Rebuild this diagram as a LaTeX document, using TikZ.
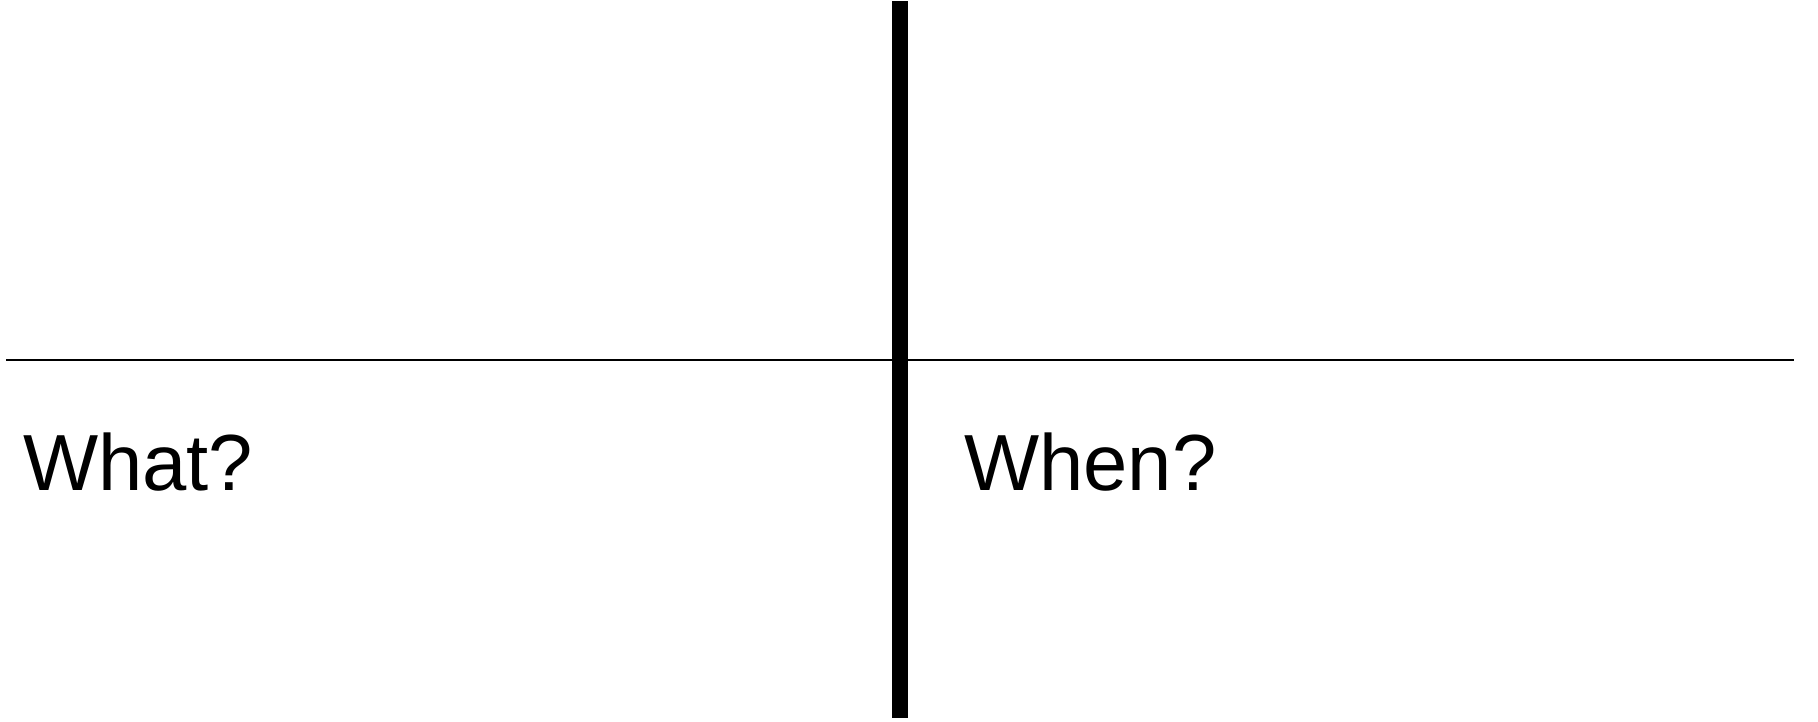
\documentclass[tikz,border=0pt]{standalone}
\usepackage{fontspec}
\setmainfont{Liberation Sans}
\usepackage{tikz}
\usetikzlibrary{positioning}

\begin{document}
\begin{tikzpicture}[x=1pt,y=-1pt,
  label text/.style={inner sep=0pt,anchor=base west,font=\fontsize{79.6}{90}\selectfont}]
\useasboundingbox (0,0) rectangle (1818,721);
\coordinate (topmid) at (900,1);
\coordinate (botmid) at (900,718);
\coordinate (leftend) at (6,359.5);
\coordinate (rightend) at (1794,359.5);
\draw[line width=2pt] (leftend)--(rightend);
\draw[line width=16pt] (topmid)--(botmid);
\node[label text] (what) at (23,490) {What?};
\node[label text] (when) at (964,490) {When?};
\end{tikzpicture}
\end{document}
